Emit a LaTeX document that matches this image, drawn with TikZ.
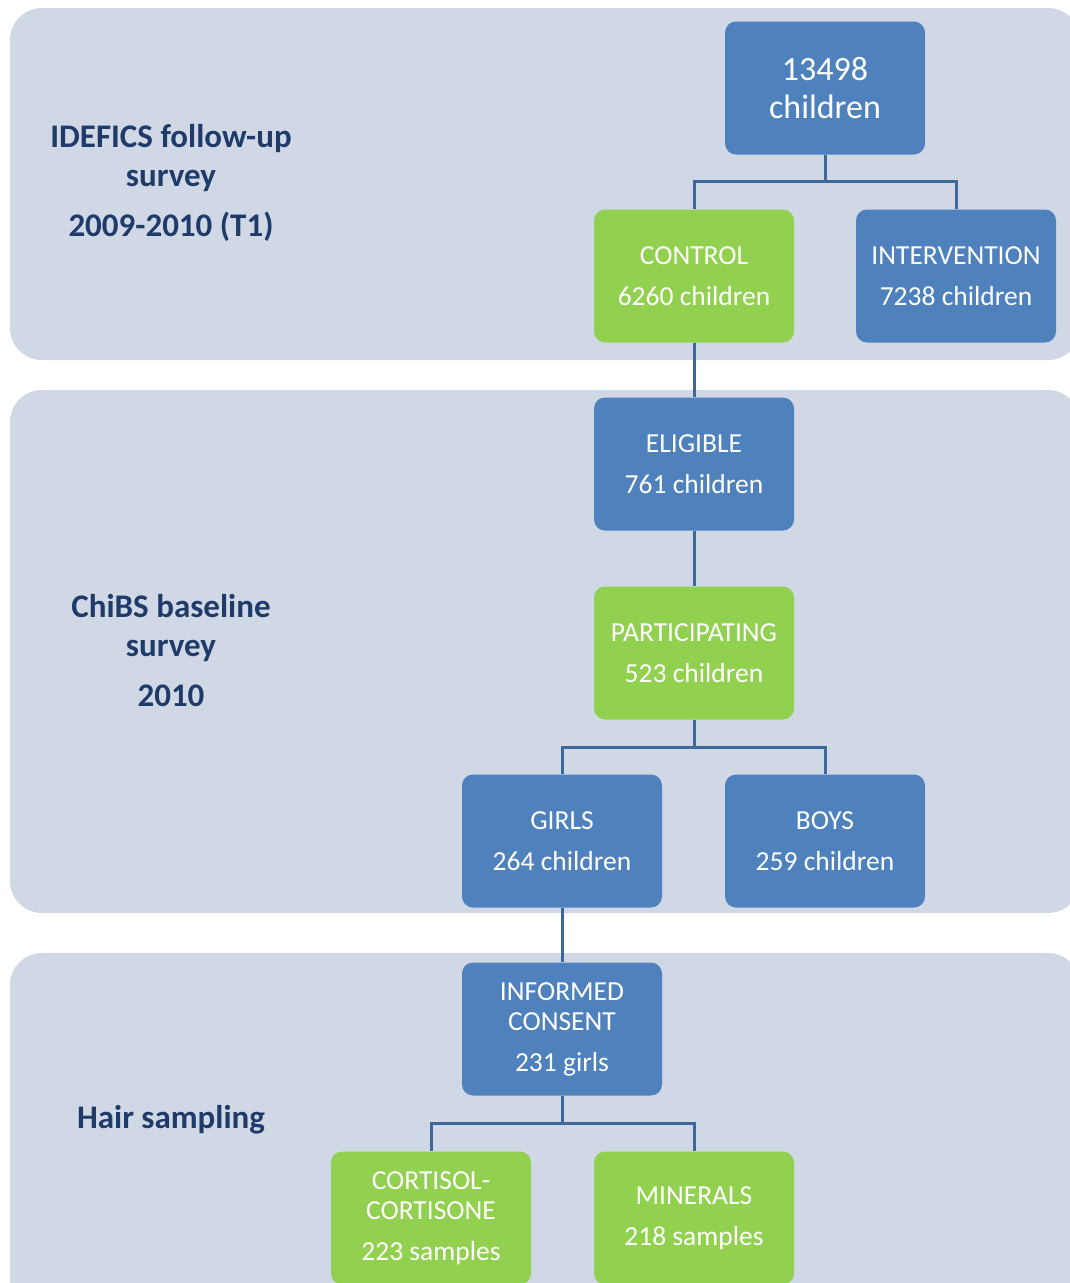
\documentclass[tikz,border=0pt]{standalone}
\usepackage{fontspec}
\setmainfont{Carlito}
\definecolor{panelbg}{HTML}{D0D8E6}
\definecolor{boxblue}{HTML}{4F81BD}
\definecolor{boxgreen}{HTML}{92D050}
\definecolor{linkblue}{HTML}{3D6899}
\definecolor{labelblue}{HTML}{1F3B6A}
\tikzset{
  panel/.style={fill=panelbg, draw=none, rounded corners=32pt},
  box/.style={rounded corners=11pt, draw=none, minimum width=200pt, minimum height=133pt,
    text=white, align=center, inner sep=0pt, font=\fontsize{27.5}{41}\selectfont},
  bluebox/.style={box, fill=boxblue},
  greenbox/.style={box, fill=boxgreen},
  link/.style={draw=linkblue, line width=3pt},
  phase/.style={text=labelblue, align=center, font=\bfseries\fontsize{33}{39}\selectfont}
}
\begin{document}
\begin{tikzpicture}[x=1pt,y=-1pt]
\useasboundingbox (0,0) rectangle (1070,1283);
\clip (0,0) rectangle (1070,1283);
% survey phases
\fill[panel] (10,8) rectangle (1080,360);
\fill[panel] (10,390) rectangle (1080,913);
\fill[panel] (10,953) rectangle (1080,1330);

\node[phase] (t1) at (171,183) {IDEFICS follow-up\\survey\\[11pt]2009-2010 (T1)};
\node[phase] (chibs) at (171,651) {ChiBS baseline\\survey\\[11pt]2010};
\node[phase] (hair) at (171,1120) {Hair sampling};

% flow boxes
\node[bluebox, font=\fontsize{34}{38}\selectfont] (all) at (825,88) {13498\\children};
\node[greenbox] (control) at (694,276) {CONTROL\\6260 children};
\node[bluebox] (interv) at (956,276) {INTERVENTION\\7238 children};
\node[bluebox] (elig) at (694,464) {ELIGIBLE\\761 children};
\node[greenbox] (part) at (694,653) {PARTICIPATING\\523 children};
\node[bluebox] (girls) at (562,841) {GIRLS\\264 children};
\node[bluebox] (boys) at (825,841) {BOYS\\259 children};
\node[bluebox] (consent) at (562,1029) {INFORMED\\[-11pt]CONSENT\\231 girls};
\node[greenbox] (cort) at (431,1218) {CORTISOL-\\[-11pt]CORTISONE\\223 samples};
\node[greenbox] (min) at (694,1218) {MINERALS\\218 samples};

% connectors
\draw[link] (all.south) -- ++(0,27) -| (control.north);
\draw[link] (all.south) -- ++(0,27) -| (interv.north);
\draw[link] (control.south) -- (elig.north);
\draw[link] (elig.south) -- (part.north);
\draw[link] (part.south) -- ++(0,28) -| (girls.north);
\draw[link] (part.south) -- ++(0,28) -| (boys.north);
\draw[link] (girls.south) -- (consent.north);
\draw[link] (consent.south) -- ++(0,28) -| (cort.north);
\draw[link] (consent.south) -- ++(0,28) -| (min.north);
\end{tikzpicture}
\end{document}
